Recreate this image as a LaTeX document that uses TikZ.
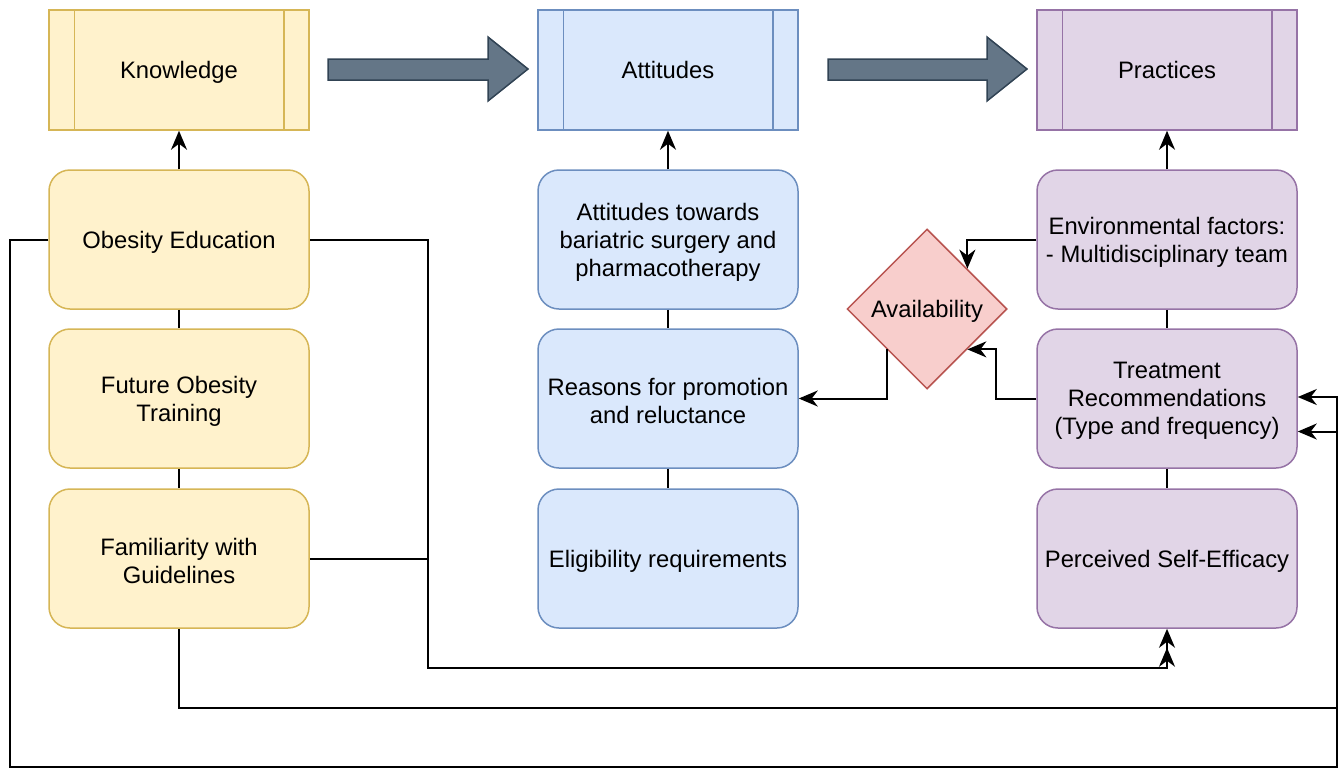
\documentclass[tikz,border=0pt]{standalone}
\usepackage{fontspec}
\setmainfont{Liberation Sans}
\usetikzlibrary{shapes.geometric,arrows.meta}
\definecolor{yF}{HTML}{FFF2CC}\definecolor{yD}{HTML}{D6B656}
\definecolor{bF}{HTML}{DAE8FC}\definecolor{bD}{HTML}{6C8EBF}
\definecolor{pF}{HTML}{E1D5E7}\definecolor{pD}{HTML}{9673A6}
\definecolor{rF}{HTML}{F8CECC}\definecolor{rD}{HTML}{B85450}
\definecolor{gF}{HTML}{647687}\definecolor{gD}{HTML}{314354}
\begin{document}
\begin{tikzpicture}[x=1pt,y=-1pt,
  txt/.style={font=\fontsize{23.8}{28}\selectfont, align=center, text=black},
  hdr/.style={draw, line width=1.5pt, minimum width=260pt, minimum height=120pt, inner sep=0pt},
  rbox/.style={draw, line width=1.5pt, rounded corners=21pt, minimum width=260pt, minimum height=139pt, inner sep=0pt},
  yel/.style={fill=yF, draw=yD},
  blu/.style={fill=bF, draw=bD},
  pur/.style={fill=pF, draw=pD},
  conn/.style={line width=2pt, draw=black},
  arr/.style={conn, -{Stealth[length=19pt,width=16pt,inset=6pt]}},
  blk/.style={fill=gF, draw=gD, line width=1.5pt, line join=miter}
]
\useasboundingbox (0,0) rectangle (1340,769);
% headers
\node[hdr,yel] (know) at (179,70) {};
\node[hdr,blu] (att) at (668,70) {};
\node[hdr,pur] (prac) at (1167,70) {};
\foreach \n/\c in {know/yD,att/bD,prac/pD}{
  \draw[\c, line width=1.5pt] ([xshift=26pt]\n.north west) -- ([xshift=26pt]\n.south west);
  \draw[\c, line width=1.5pt] ([xshift=-26pt]\n.north east) -- ([xshift=-26pt]\n.south east);
}
\node[txt, anchor=base] (knowt) at (179,78.5) {Knowledge};
\node[txt, anchor=base] (attt) at (668,78.5) {Attitudes};
\node[txt, anchor=base] (pract) at (1167,78.5) {Practices};
% block arrows
\draw[blk] (328,59) -- (488,59) -- (488,37) -- (528,69) -- (488,101) -- (488,80) -- (328,80) -- cycle;
\draw[blk] (828,59) -- (987,59) -- (987,37) -- (1027,69) -- (987,101) -- (987,80) -- (828,80) -- cycle;
% boxes
\node[rbox,yel] (edu) at (179,239.5) {};
\node[rbox,yel] (fut) at (179,398.5) {};
\node[rbox,yel] (fam) at (179,558.5) {};
\node[rbox,blu] (atb) at (668,239.5) {};
\node[rbox,blu] (reas) at (668,398.5) {};
\node[rbox,blu] (elig) at (668,558.5) {};
\node[rbox,pur] (env) at (1167,239.5) {};
\node[rbox,pur] (treat) at (1167,398.5) {};
\node[rbox,pur] (perc) at (1167,558.5) {};
% box texts
\node[txt] (edut) at ([yshift=-2.5pt]edu) {Obesity Education};
\node[txt] (futt) at ([yshift=-2.5pt]fut) {Future Obesity\\Training};
\node[txt] (famt) at ([yshift=-2.5pt]fam) {Familiarity with\\Guidelines};
\node[txt] (atbt) at ([yshift=-2.5pt]atb) {Attitudes towards\\bariatric surgery and\\pharmacotherapy};
\node[txt] (reast) at ([yshift=-2.5pt]reas) {Reasons for promotion\\and reluctance};
\node[txt] (eligt) at ([yshift=-2.5pt]elig) {Eligibility requirements};
\node[txt] (envt) at ([yshift=-2.5pt]env) {Environmental factors:\\- Multidisciplinary team};
\node[txt] (treatt) at ([yshift=-2.5pt]treat) {Treatment\\Recommendations\\(Type and frequency)};
\node[txt] (perct) at ([yshift=-2.5pt]perc) {Perceived Self-Efficacy};
% diamond
\node[diamond, fill=rF, draw=rD, line width=1.5pt, minimum width=160pt, minimum height=160pt, inner sep=0pt] (av) at (927,309) {};
\node[txt] (avl) at (927,311.5) {Availability};
% vertical links
\draw[arr] (edu.north) -- (know.south);
\draw[arr] (atb.north) -- (att.south);
\draw[arr] (env.north) -- (prac.south);
\draw[conn] (edu.south) -- (fut.north) (fut.south) -- (fam.north);
\draw[conn] (atb.south) -- (reas.north) (reas.south) -- (elig.north);
\draw[conn] (env.south) -- (treat.north) (treat.south) -- (perc.north);
% availability links
\draw[arr] (env.west) -| (av.north east);
\draw[arr] (treat.west) -- ++(-40,0) |- (av.south east);
\draw[arr] (av.south west) |- (reas.east);
% long links
\coordinate (j1) at (428,668);
\coordinate (p2) at ([yshift=-19pt]perc.south);
\draw[arr] (edu.east) -| (j1) -| (perc.south);
\draw[arr] (fam.east) -| (j1) -| (p2);
\coordinate (r1) at (1337,708);
\coordinate (t1) at ([yshift=1.5pt]treat.east);
\coordinate (t2) at ([yshift=-33pt]treat.east);
\draw[arr] (fam.south) |- (r1) |- (t1);
\draw[arr] (edu.west) -- (10,239.5) -- (10,767) -- (1337,767) |- (t2);
\end{tikzpicture}
\end{document}
